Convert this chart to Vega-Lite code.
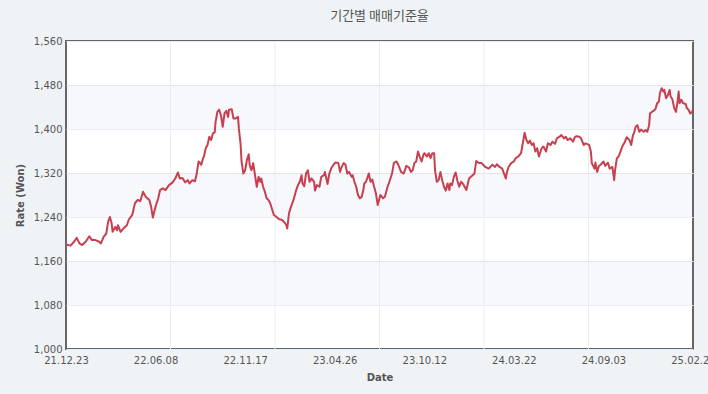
{
  "$schema": "https://vega.github.io/schema/vega-lite/v6.json",
  "autosize": {"type": "none"},
  "width": 627,
  "height": 308,
  "padding": {"left": 66, "top": 41, "right": 15, "bottom": 45},
  "background": "#eff3f6",
  "title": {"text": "기간별 매매기준율", "font": "Noto Sans CJK KR", "fontSize": 13, "fontWeight": "normal", "color": "#555555", "anchor": "middle", "offset": 13},
  "config": {
    "view": {"stroke": "#666666", "strokeWidth": 2, "fill": "white"},
    "axis": {"labelFont": "DejaVu Sans", "labelFontSize": 10, "labelColor": "#555555", "titleFont": "DejaVu Sans", "titleFontSize": 10, "titleFontWeight": "bold", "titleColor": "#555555", "gridColor": "#e9ecf0", "gridWidth": 1, "ticks": false, "domain": false}
  },
  "datasets": {
    "bands": [{"lo": 1080, "hi": 1160}, {"lo": 1240, "hi": 1320}, {"lo": 1400, "hi": 1480}],
    "vgrid": [{"t": 116.67}, {"t": 233.33}, {"t": 350}, {"t": 466.67}, {"t": 583.33}],
    "rates": [
      {"t":0,"rate":1190},{"t":5,"rate":1188},{"t":9,"rate":1195},{"t":12,"rate":1202},{"t":15,"rate":1192},{"t":18,"rate":1189},{"t":22,"rate":1195},{"t":26,"rate":1205},{"t":29,"rate":1198},{"t":33,"rate":1198},{"t":37,"rate":1195},{"t":39,"rate":1192},{"t":42,"rate":1204},{"t":45,"rate":1210},{"t":47,"rate":1231},{"t":49,"rate":1240},{"t":51,"rate":1228},{"t":52,"rate":1213},{"t":55,"rate":1222},{"t":57,"rate":1216},{"t":58,"rate":1225},{"t":61,"rate":1213},{"t":64,"rate":1219},{"t":68,"rate":1225},{"t":70,"rate":1235},{"t":74,"rate":1244},{"t":77,"rate":1265},{"t":80,"rate":1271},{"t":83,"rate":1269},{"t":86,"rate":1286},{"t":89,"rate":1277},{"t":93,"rate":1271},{"t":95,"rate":1259},{"t":97,"rate":1239},{"t":100,"rate":1259},{"t":103,"rate":1274},{"t":105,"rate":1289},{"t":108,"rate":1292},{"t":111,"rate":1289},
      {"t":115,"rate":1298},{"t":119,"rate":1303},{"t":122,"rate":1310},{"t":125,"rate":1321},{"t":127,"rate":1310},{"t":130,"rate":1311},{"t":133,"rate":1303},{"t":136,"rate":1307},{"t":138,"rate":1301},{"t":141,"rate":1307},{"t":144,"rate":1305},{"t":146,"rate":1319},{"t":148,"rate":1341},{"t":151,"rate":1335},{"t":153,"rate":1347},{"t":154,"rate":1350},{"t":156,"rate":1365},{"t":158,"rate":1371},{"t":160,"rate":1386},{"t":162,"rate":1380},{"t":164,"rate":1392},{"t":166,"rate":1394},{"t":167,"rate":1413},{"t":169,"rate":1431},{"t":171,"rate":1435},{"t":173,"rate":1425},{"t":175,"rate":1404},{"t":177,"rate":1429},{"t":179,"rate":1433},{"t":181,"rate":1422},{"t":182,"rate":1435},{"t":185,"rate":1436},{"t":187,"rate":1419},{"t":189,"rate":1419},{"t":192,"rate":1422},{"t":193,"rate":1401},{"t":195,"rate":1371},{"t":196,"rate":1341},{"t":198,"rate":1319},{"t":200,"rate":1325},{"t":202,"rate":1344},{"t":204,"rate":1354},{"t":205,"rate":1335},{"t":207,"rate":1325},{"t":209,"rate":1338},{"t":211,"rate":1316},{"t":213,"rate":1295},{"t":215,"rate":1313},{"t":217,"rate":1304},{"t":218,"rate":1310},{"t":220,"rate":1295},{"t":222,"rate":1286},{"t":224,"rate":1274},{"t":226,"rate":1271},{"t":228,"rate":1265},
      {"t":232,"rate":1244},{"t":235,"rate":1240},{"t":238,"rate":1236},{"t":241,"rate":1235},{"t":244,"rate":1230},{"t":246,"rate":1225},{"t":247,"rate":1219},{"t":249,"rate":1247},{"t":251,"rate":1258},{"t":254,"rate":1271},{"t":257,"rate":1289},{"t":259,"rate":1298},{"t":261,"rate":1304},{"t":263,"rate":1316},{"t":264,"rate":1301},{"t":266,"rate":1296},{"t":268,"rate":1319},{"t":270,"rate":1325},{"t":272,"rate":1304},{"t":274,"rate":1310},{"t":277,"rate":1304},{"t":278,"rate":1288},{"t":280,"rate":1298},{"t":283,"rate":1295},{"t":285,"rate":1313},{"t":288,"rate":1316},{"t":289,"rate":1322},{"t":292,"rate":1300},{"t":294,"rate":1319},{"t":296,"rate":1328},{"t":299,"rate":1336},{"t":301,"rate":1339},{"t":304,"rate":1338},{"t":306,"rate":1322},{"t":307,"rate":1328},{"t":310,"rate":1338},{"t":312,"rate":1335},{"t":314,"rate":1319},{"t":316,"rate":1322},{"t":319,"rate":1313},{"t":320,"rate":1316},{"t":322,"rate":1304},{"t":324,"rate":1295},{"t":326,"rate":1280},{"t":328,"rate":1274},{"t":330,"rate":1276},{"t":332,"rate":1289},{"t":333,"rate":1301},{"t":335,"rate":1304},{"t":338,"rate":1319},{"t":340,"rate":1304},{"t":342,"rate":1308},{"t":344,"rate":1295},{"t":346,"rate":1283},
      {"t":348,"rate":1262},{"t":351,"rate":1280},{"t":354,"rate":1274},{"t":356,"rate":1277},{"t":359,"rate":1295},{"t":361,"rate":1304},{"t":364,"rate":1319},{"t":366,"rate":1338},{"t":369,"rate":1341},{"t":371,"rate":1335},{"t":374,"rate":1322},{"t":377,"rate":1319},{"t":380,"rate":1333},{"t":383,"rate":1330},{"t":385,"rate":1322},{"t":387,"rate":1325},{"t":389,"rate":1338},{"t":391,"rate":1341},{"t":393,"rate":1359},{"t":395,"rate":1349},{"t":397,"rate":1341},{"t":399,"rate":1353},{"t":400,"rate":1356},{"t":403,"rate":1350},{"t":405,"rate":1356},{"t":407,"rate":1347},{"t":409,"rate":1356},{"t":411,"rate":1356},{"t":412,"rate":1325},{"t":414,"rate":1304},{"t":416,"rate":1307},{"t":418,"rate":1322},{"t":420,"rate":1307},{"t":422,"rate":1295},{"t":424,"rate":1288},{"t":426,"rate":1301},{"t":428,"rate":1289},{"t":429,"rate":1301},{"t":431,"rate":1298},{"t":433,"rate":1313},{"t":435,"rate":1321},{"t":437,"rate":1306},{"t":439,"rate":1295},{"t":441,"rate":1304},{"t":443,"rate":1301},{"t":445,"rate":1295},{"t":447,"rate":1289},{"t":450,"rate":1310},{"t":452,"rate":1313},{"t":454,"rate":1316},{"t":456,"rate":1319},{"t":458,"rate":1342},{"t":461,"rate":1338},{"t":464,"rate":1338},
      {"t":468,"rate":1331},{"t":472,"rate":1328},{"t":476,"rate":1335},{"t":479,"rate":1331},{"t":481,"rate":1336},{"t":484,"rate":1331},{"t":487,"rate":1328},{"t":489,"rate":1319},{"t":491,"rate":1310},{"t":492,"rate":1319},{"t":494,"rate":1331},{"t":497,"rate":1338},{"t":500,"rate":1341},{"t":502,"rate":1347},{"t":505,"rate":1350},{"t":508,"rate":1356},{"t":510,"rate":1374},{"t":512,"rate":1393},{"t":514,"rate":1380},{"t":516,"rate":1374},{"t":518,"rate":1379},{"t":520,"rate":1371},{"t":522,"rate":1374},{"t":524,"rate":1359},{"t":526,"rate":1365},{"t":528,"rate":1350},{"t":531,"rate":1365},{"t":533,"rate":1368},{"t":536,"rate":1359},{"t":538,"rate":1374},{"t":541,"rate":1371},{"t":543,"rate":1377},{"t":546,"rate":1373},{"t":548,"rate":1383},{"t":551,"rate":1386},{"t":553,"rate":1389},{"t":556,"rate":1383},{"t":558,"rate":1386},{"t":560,"rate":1380},{"t":563,"rate":1383},{"t":566,"rate":1377},{"t":568,"rate":1385},{"t":570,"rate":1387},{"t":573,"rate":1386},{"t":575,"rate":1383},{"t":578,"rate":1371},{"t":580,"rate":1374},
      {"t":584,"rate":1371},{"t":586,"rate":1359},{"t":587,"rate":1338},{"t":590,"rate":1328},{"t":591,"rate":1339},{"t":593,"rate":1322},{"t":595,"rate":1333},{"t":597,"rate":1335},{"t":600,"rate":1341},{"t":602,"rate":1333},{"t":605,"rate":1339},{"t":607,"rate":1328},{"t":610,"rate":1331},{"t":612,"rate":1307},{"t":613,"rate":1325},{"t":615,"rate":1347},{"t":617,"rate":1350},{"t":619,"rate":1359},{"t":621,"rate":1368},{"t":624,"rate":1377},{"t":626,"rate":1385},{"t":629,"rate":1380},{"t":631,"rate":1371},{"t":633,"rate":1389},{"t":634,"rate":1392},{"t":636,"rate":1404},{"t":638,"rate":1407},{"t":640,"rate":1395},{"t":642,"rate":1399},{"t":645,"rate":1395},{"t":647,"rate":1398},{"t":649,"rate":1395},{"t":651,"rate":1407},{"t":652,"rate":1428},{"t":654,"rate":1431},{"t":656,"rate":1433},{"t":658,"rate":1436},{"t":660,"rate":1447},{"t":662,"rate":1450},{"t":663,"rate":1465},{"t":665,"rate":1474},{"t":667,"rate":1468},{"t":668,"rate":1471},{"t":670,"rate":1456},{"t":672,"rate":1462},{"t":674,"rate":1471},{"t":675,"rate":1459},{"t":677,"rate":1454},{"t":679,"rate":1438},{"t":681,"rate":1431},{"t":683,"rate":1453},{"t":684,"rate":1468},{"t":685,"rate":1447},{"t":687,"rate":1453},{"t":689,"rate":1447},{"t":692,"rate":1445},{"t":693,"rate":1438},{"t":695,"rate":1435},{"t":697,"rate":1428},{"t":699,"rate":1431},{"t":700,"rate":1436}
    ]
  },
  "layer": [
    {
      "data": {"name": "bands"},
      "mark": {"type": "rect", "fill": "#5a78b4", "opacity": 0.05},
      "encoding": {
        "y": {"field": "lo", "type": "quantitative", "scale": {"domain": [1000, 1560], "nice": false, "zero": false}},
        "y2": {"field": "hi"}
      }
    },
    {
      "data": {"name": "vgrid"},
      "mark": {"type": "rule", "color": "#e9ecf0", "strokeWidth": 1},
      "encoding": {
        "x": {"field": "t", "type": "quantitative", "title": "Date"}
      }
    },
    {
      "data": {"name": "rates"},
      "mark": {"type": "line", "color": "#c8404f", "strokeWidth": 2, "strokeJoin": "round"},
      "encoding": {
        "x": {"field": "t", "type": "quantitative", "title": "Date",
              "scale": {"domain": [0, 700], "nice": false, "zero": false},
              "axis": {"values": [0, 100, 200, 300, 400, 500, 600, 700], "grid": false, "labelFlush": false, "labelPadding": 6, "titlePadding": 7,
                       "labelExpr": "['21.12.23','22.06.08','22.11.17','23.04.26','23.10.12','24.03.22','24.09.03','25.02.21'][round(datum.value/100)]"}},
        "y": {"field": "rate", "type": "quantitative", "title": "Rate (Won)",
              "scale": {"domain": [1000, 1560], "nice": false, "zero": false},
              "axis": {"values": [1000, 1080, 1160, 1240, 1320, 1400, 1480, 1560], "format": ",d", "labelPadding": 4, "titlePadding": 8, "labelFlush": false}}
      }
    }
  ]
}
